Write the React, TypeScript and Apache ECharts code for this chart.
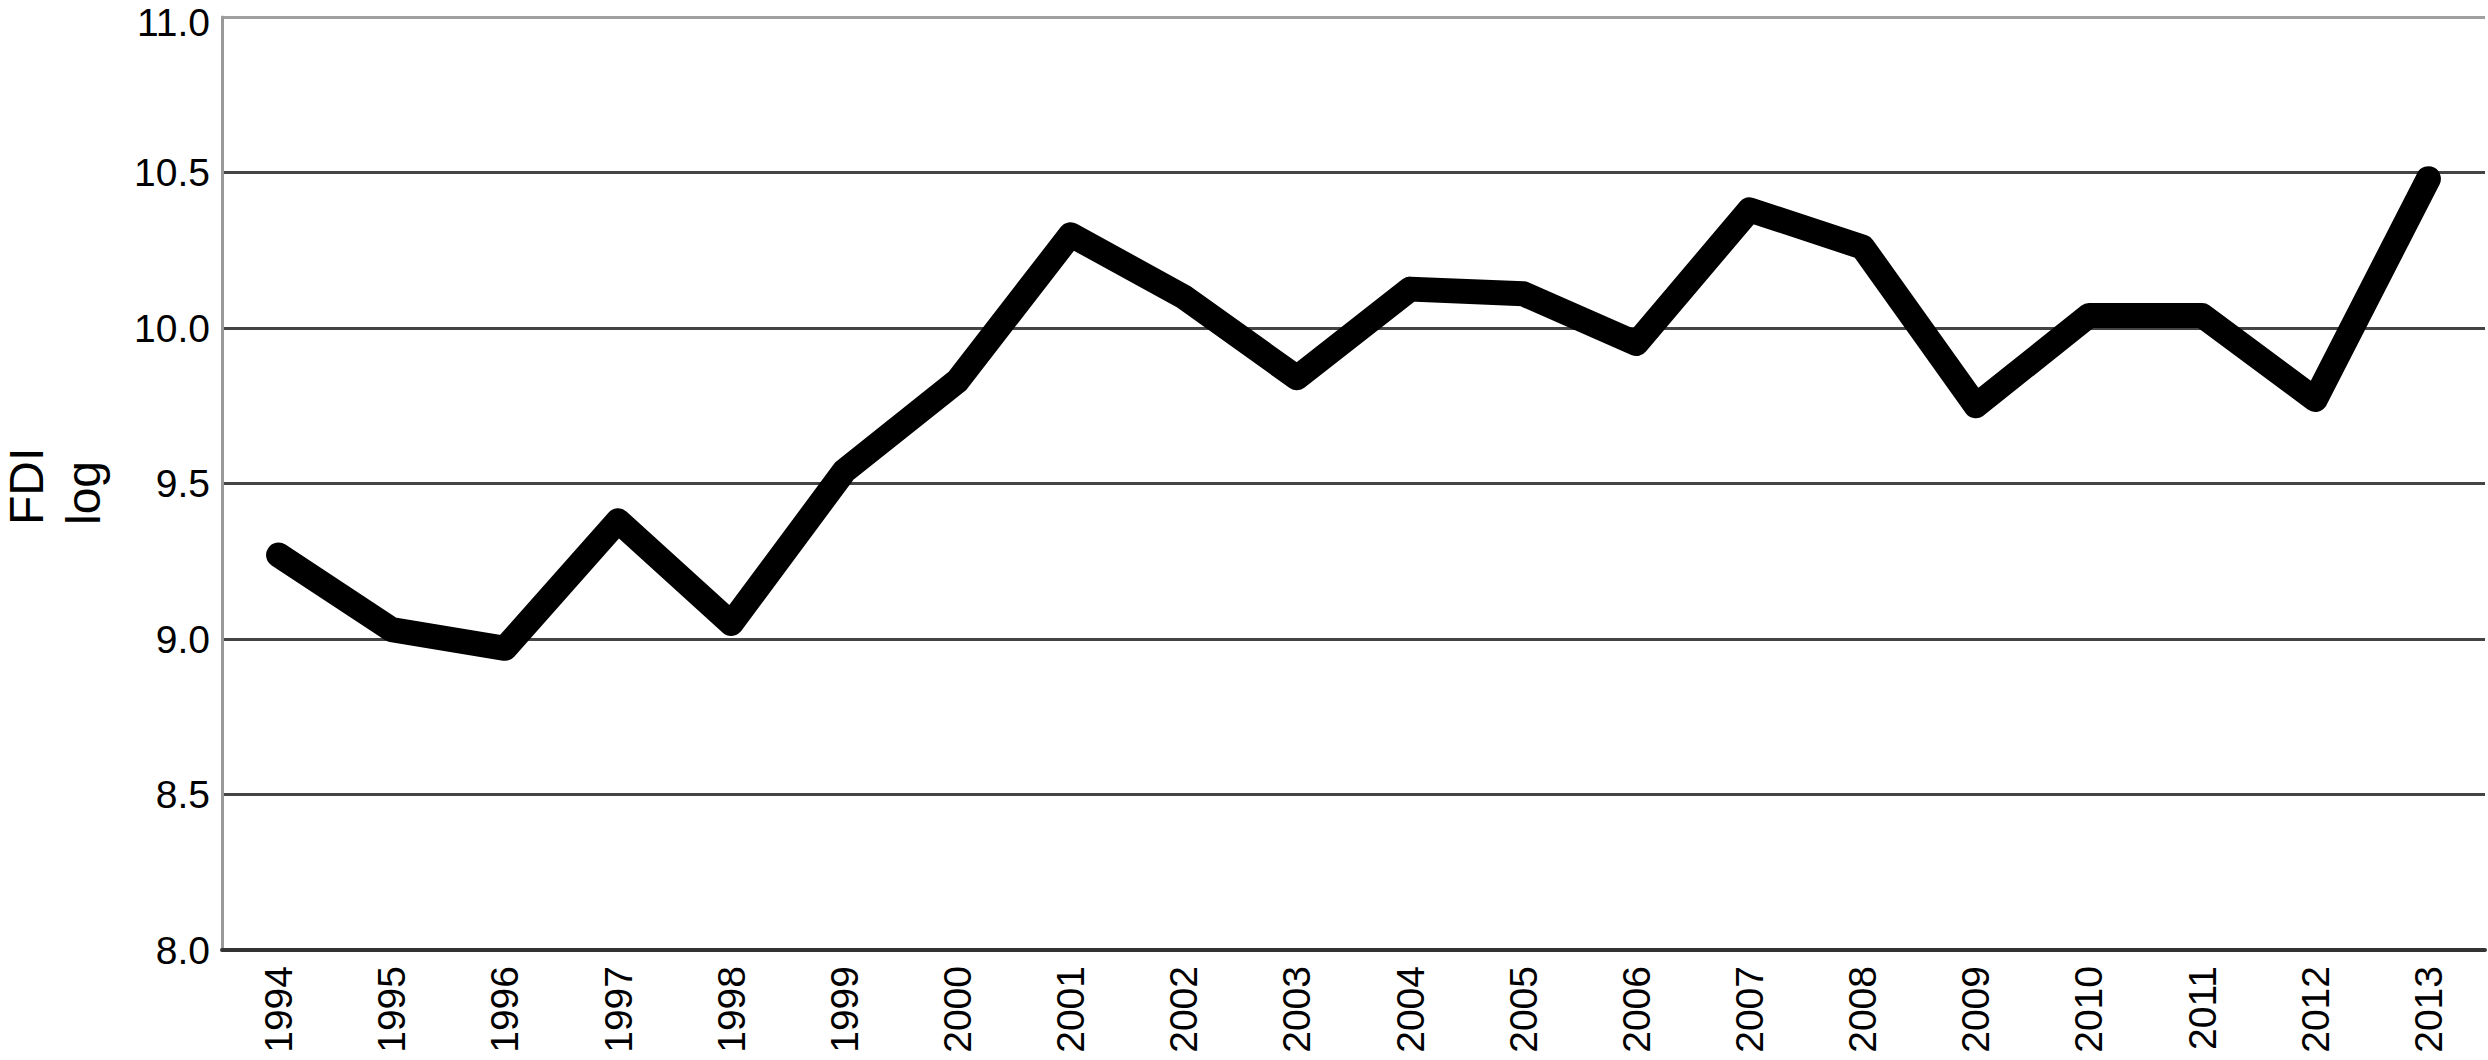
import React, { useEffect, useRef } from "react";
import * as echarts from "echarts";

const years = [
  "1994", "1995", "1996", "1997", "1998", "1999", "2000", "2001", "2002", "2003",
  "2004", "2005", "2006", "2007", "2008", "2009", "2010", "2011", "2012", "2013",
];
const fdiLog = [
  9.27, 9.03, 8.97, 9.38, 9.05, 9.54, 9.83, 10.3, 10.1, 9.84,
  10.125, 10.11, 9.95, 10.38, 10.26, 9.75, 10.04, 10.04, 9.77, 10.48,
];
const yMin = 8;
const yMax = 11;
const yStep = 0.5;
const nameLines = ["FDI", "log"];

const FONT = "'Liberation Sans', Arial, Helvetica, sans-serif";

export default function App() {
  const ref = useRef<HTMLDivElement>(null);
  useEffect(() => {
    document.body.style.margin = "0";
    if (!ref.current) return;
    const chart = echarts.init(ref.current, null, { renderer: "svg" });
    const splitColors = ["#444", "#444", "#444", "#444", "#444", "#444", "#a0a0a0"];
    chart.setOption({
      animation: false,
      backgroundColor: "#fff",
      grid: { left: 222, right: 3, top: 17, bottom: 110, containLabel: false },
      xAxis: {
        type: "category",
        data: years,
        boundaryGap: true,
        axisLine: { show: true, lineStyle: { color: "#333", width: 4 } },
        axisTick: { show: false },
        axisLabel: {
          interval: 0,
          rotate: 90,
          margin: 16,
          color: "#000",
          fontSize: 39,
          fontFamily: FONT,
        },
        splitLine: { show: false },
      },
      yAxis: {
        type: "value",
        min: yMin,
        max: yMax,
        interval: yStep,
        axisLine: { show: true, lineStyle: { color: "#999", width: 3 } },
        axisTick: { show: false },
        axisLabel: {
          margin: 12,
          color: "#000",
          fontSize: 39,
          fontFamily: FONT,
          formatter: (v: number) =>
            Math.abs(v - yMax) < 1e-9 ? `{top|${v.toFixed(1)}}` : v.toFixed(1),
          rich: {
            top: {
              padding: [11, 0, 0, 0],
              fontSize: 39,
              color: "#000",
              fontFamily: FONT,
            },
          },
        },
        splitLine: { show: true, lineStyle: { color: splitColors, width: 3 } },
      },
      series: [
        {
          type: "line",
          data: fdiLog,
          symbol: "none",
          lineStyle: { color: "#000", width: 25, cap: "round", join: "round" },
          z: 5,
        },
      ],
      graphic: [
        {
          type: "text",
          x: 26,
          y: 525,
          rotation: Math.PI / 2,
          style: {
            text: nameLines[0],
            fill: "#000",
            font: `48px ${FONT}`,
            textAlign: "left",
            textVerticalAlign: "middle",
          },
        },
        {
          type: "text",
          x: 83,
          y: 525,
          rotation: Math.PI / 2,
          style: {
            text: nameLines[1],
            fill: "#000",
            font: `48px ${FONT}`,
            textAlign: "left",
            textVerticalAlign: "middle",
          },
        },
      ],
    });
    return () => chart.dispose();
  }, []);
  return <div ref={ref} style={{ width: 2488, height: 1060 }} />;
}
